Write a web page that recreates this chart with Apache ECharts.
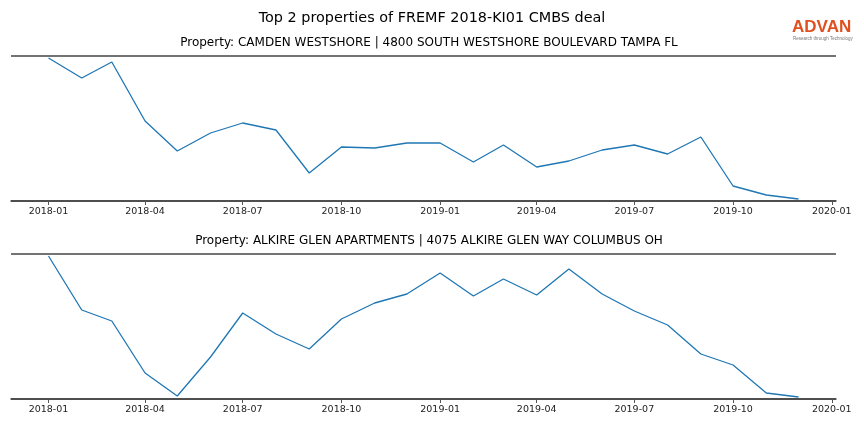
<!DOCTYPE html>
<html><head><meta charset="utf-8">
<script src="https://cdn.jsdelivr.net/npm/echarts@6/dist/echarts.min.js"></script>
<style>html,body{margin:0;padding:0;background:#fff}#c{width:864px;height:432px}</style>
</head><body><div id="c"></div>
<script>
const months = ['2018-01','2018-02','2018-03','2018-04','2018-05','2018-06','2018-07','2018-08','2018-09','2018-10','2018-11','2018-12',
'2019-01','2019-02','2019-03','2019-04','2019-05','2019-06','2019-07','2019-08','2019-09','2019-10','2019-11','2019-12'];
const camdenValues = [143,123,139,80,50,68,78,71,28,54,53,58,58,39,56,34,40,51,56,47,64,15,6,2];
const alkireValues = [143,89,78,26,3,42,86,65,50,80,96,105,126,103,120,104,130,105,88,74,45,34,6,2];
const tickLabels = ['2018-01','2018-04','2018-07','2018-10','2019-01','2019-04','2019-07','2019-10','2020-01'];
const mainTitle = 'Top 2 properties of FREMF 2018-KI01 CMBS deal';
const subTitles = ['Property: CAMDEN WESTSHORE | 4800 SOUTH WESTSHORE BOULEVARD TAMPA FL',
                   'Property: ALKIRE GLEN APARTMENTS | 4075 ALKIRE GLEN WAY COLUMBUS OH'];

function ts(s){const [y,m]=s.split('-').map(Number);return new Date(y,m-1,1).getTime();}
const t0 = ts(months[0]), t1 = ts(months[months.length-1]);
const pad = (t1-t0)*0.05;
const xMin = t0-pad, xMax = t1+pad;
const tickVals = tickLabels.map(ts);

const grids = [{left:11,right:28,top:56,height:145},{left:11,right:28,top:254,height:145}];
function xAx(i){return {type:'time',gridIndex:i,min:xMin,max:xMax,
  axisLine:{show:true,lineStyle:{color:'#444',width:1.5}},
  axisTick:{show:true,customValues:tickVals,length:4,lineStyle:{color:'#555',width:1}},
  axisLabel:{show:true,customValues:tickVals,formatter:'{yyyy}-{MM}',color:'#222',fontSize:9.5,fontFamily:'DejaVu Sans',margin:6,hideOverlap:false},
  splitLine:{show:false}};}
function yAx(i){return {type:'value',gridIndex:i,min:0,max:145,interval:145,
  axisLine:{show:false},axisTick:{show:false},axisLabel:{show:false},
  splitLine:{show:true,lineStyle:{color:'#444',width:1.5}}};}
const series = [camdenValues,alkireValues].map((vals,i)=>({type:'line',xAxisIndex:i,yAxisIndex:i,
  data:months.map((m,k)=>[ts(m),vals[k]]),showSymbol:false,symbol:'none',
  lineStyle:{color:'#1f77b4',width:1.3},animation:false}));

const chart = echarts.init(document.getElementById('c'),null,{renderer:'canvas'});
chart.setOption({
  animation:false,
  title:[
    {text:mainTitle,left:'center',top:6,textStyle:{fontFamily:'DejaVu Sans',fontSize:14.4,fontWeight:'normal',color:'#000'}},
    {text:subTitles[0],left:424,textAlign:'center',top:32,textStyle:{fontFamily:'DejaVu Sans',fontSize:12,fontWeight:'normal',color:'#000'}},
    {text:subTitles[1],left:424,textAlign:'center',top:230,textStyle:{fontFamily:'DejaVu Sans',fontSize:12,fontWeight:'normal',color:'#000'}}
  ],
  grid:grids,
  xAxis:[xAx(0),xAx(1)],
  yAxis:[yAx(0),yAx(1)],
  series:series,
  graphic:[
    {type:'text',left:792,top:19,style:{text:'ADVAN',fill:'#e0501f',font:'bold 17px "Liberation Sans"'}},
    {type:'text',left:793,top:36,style:{text:'Research through Technology',fill:'#777',font:'4.5px "Liberation Sans"'}}
  ]
});
</script></body></html>
